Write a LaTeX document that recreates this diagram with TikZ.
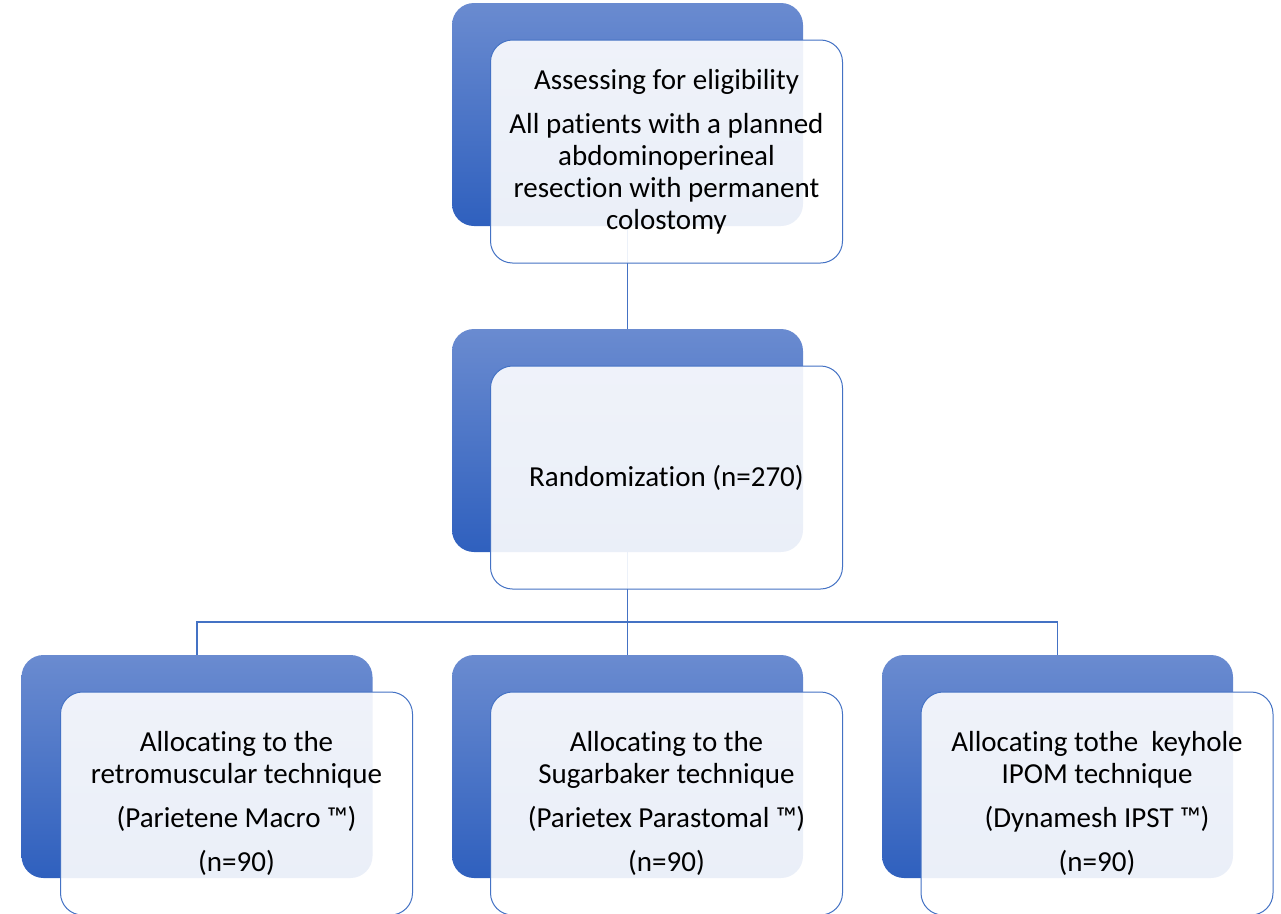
\documentclass[tikz,border=0pt]{standalone}
\usepackage{fontspec}
\setmainfont{Carlito}[Ligatures={NoCommon}]
\usetikzlibrary{backgrounds}
\definecolor{accent}{RGB}{68,114,196}
\definecolor{backtop}{RGB}{106,139,208}
\definecolor{backbot}{RGB}{47,96,190}
\begin{document}
\begin{tikzpicture}[x=1pt,y=-1pt,
  backbox/.style={rectangle, rounded corners=22pt, minimum width=351pt, minimum height=223pt,
    top color=backtop, bottom color=backbot, draw=none, inner sep=0pt},
  frontbox/.style={rectangle, rounded corners=22pt, minimum width=352pt, minimum height=223pt,
    draw=accent, line width=1pt, fill=white, fill opacity=0.9, draw opacity=1, text opacity=1,
    align=center, font=\fontsize{29}{32}\selectfont, inner sep=0pt},
  link/.style={draw=accent, line width=1.2pt}]
\useasboundingbox (0,0) rectangle (1281,913);
\clip (0,0) rectangle (1281,913);
% back boxes
\node[backbox] (b1) at (627.5,114.5) {};
\node[backbox] (b2) at (627.5,440.5) {};
\node[backbox] (bl) at (197,766.5) {};
\node[backbox] (bm) at (627.5,766.5) {};
\node[backbox] (br) at (1057.5,766.5) {};
% connectors
\coordinate (j) at (627.5,622);
\begin{scope}[on background layer]
\draw[link] (b1.south) -- (b2.north);
\draw[link] (b2.south) -- (j);
\draw[link] (j) -| (bl.north);
\draw[link] (j) -- (bm.north);
\draw[link] (j) -| (br.north);
\end{scope}
% front boxes
\node[frontbox] (f1) at (666.5,151.5) {Assessing for eligibility\\[12pt]All patients with a planned\\abdominoperineal\\resection with permanent\\colostomy};
\node[frontbox] (f2) at (666.5,477.5) {Randomization (n=270)};
\node[frontbox] (fl) at (236.5,803.5) {Allocating to the\\retromuscular technique\\[12pt](Parietene Macro ™)\\[12pt](n=90)};
\node[frontbox] (fm) at (666.5,803.5) {Allocating to the\\Sugarbaker technique\\[12pt](Parietex Parastomal ™)\\[12pt](n=90)};
\node[frontbox] (fr) at (1097,803.5) {Allocating tothe\ \ keyhole\\IPOM technique\\[12pt](Dynamesh IPST ™)\\[12pt](n=90)};
\end{tikzpicture}
\end{document}
